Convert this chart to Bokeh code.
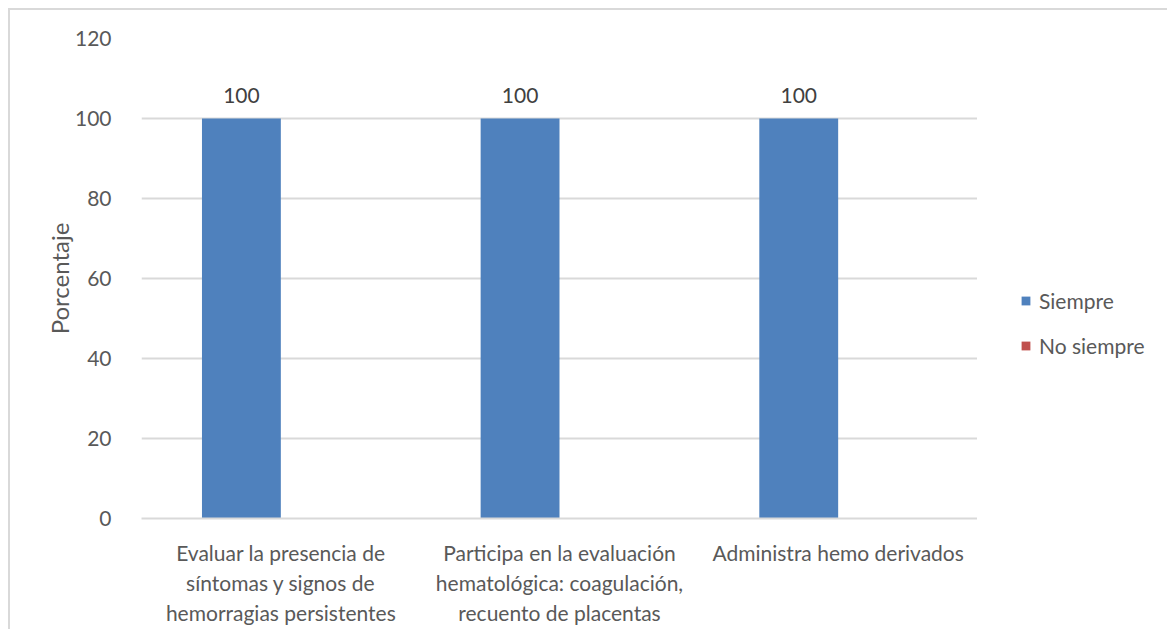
from bokeh.plotting import figure
from bokeh.layouts import row
from bokeh.models import ColumnDataSource, FactorRange, Range1d, Legend, LegendItem
from bokeh.transform import dodge
from bokeh.core.properties import value
from bokeh.embed import file_html
from bokeh.resources import INLINE

categories = [
    "Evaluar la presencia de\nsíntomas y signos de\nhemorragias persistentes",
    "Participa en la evaluación\nhematológica: coagulación,\nrecuento de placentas",
    "Administra hemo derivados",
]
siempre = [100, 100, 100]
no_siempre = [0, 0, 0]
series_names = ["Siempre", "No siempre"]
series_colors = ["#4f81bd", "#c0504d"]
y_ticks = [0, 20, 40, 60, 80, 100, 120]

FONT = "Lato"
TXT = "#595959"

src = ColumnDataSource(data=dict(
    cat=categories,
    siempre=siempre,
    no_siempre=no_siempre,
    lbl=[str(v) for v in siempre],
))

p = figure(
    x_range=FactorRange(factors=categories, range_padding=0),
    y_range=Range1d(0, 120),
    width=967, height=619,
    min_border_left=131, min_border_right=0,
    min_border_top=28, min_border_bottom=111,
    output_backend="svg", toolbar_location=None,
)
p.outline_line_color = None
p.background_fill_color = "white"
p.border_fill_color = "white"

p.vbar(x=dodge("cat", -0.1415, range=p.x_range), top="siempre", width=0.283,
       source=src, fill_color=series_colors[0], line_color=None)
p.vbar(x=dodge("cat", 0.1415, range=p.x_range), top="no_siempre", width=0.283,
       source=src, fill_color=series_colors[1], line_color=None)

p.text(x=dodge("cat", -0.1415, range=p.x_range), y="siempre", text="lbl", source=src,
       text_align="center", text_baseline="alphabetic", y_offset=-23,
       text_font=value(FONT), text_font_size="21px", text_color="#404040")

# axes
p.yaxis.ticker = y_ticks
p.yaxis.axis_line_color = None
p.yaxis.major_tick_line_color = None
p.yaxis.minor_tick_line_color = None
p.yaxis.major_label_standoff = 24
p.yaxis.major_label_text_font = FONT
p.yaxis.major_label_text_font_size = "21px"
p.yaxis.major_label_text_color = TXT
p.yaxis.axis_label = "Porcentaje"
p.yaxis.axis_label_text_font = FONT
p.yaxis.axis_label_text_font_size = "24px"
p.yaxis.axis_label_text_font_style = "normal"
p.yaxis.axis_label_text_color = TXT
p.yaxis.axis_label_standoff = -2

p.xaxis.axis_line_color = "#d9d9d9"
p.xaxis.axis_line_width = 2
p.xaxis.major_tick_line_color = None
p.xaxis.minor_tick_line_color = None
p.xaxis.major_label_standoff = 15
p.xaxis.major_label_text_font = FONT
p.xaxis.major_label_text_font_size = "21px"
p.xaxis.major_label_text_color = TXT
p.xaxis.major_label_orientation = "horizontal"

p.xgrid.grid_line_color = None
p.ygrid.grid_line_color = "#d9d9d9"
p.ygrid.grid_line_width = 2

# legend panel (dummy renderers lie outside the visible range)
lg = figure(width=190, height=619, x_range=Range1d(0, 1), y_range=Range1d(0, 1),
            min_border=0, output_backend="svg", toolbar_location=None)
lg.axis.visible = False
lg.grid.visible = False
lg.outline_line_color = None
lg.border_fill_color = "white"
rr = [lg.vbar(x=[50], top=[60], bottom=[55], width=1, fill_color=c, line_color=None)
      for c in series_colors]
legend = Legend(items=[LegendItem(label=n, renderers=[r]) for n, r in zip(series_names, rr)],
                location=(43, 160), orientation="vertical",
                glyph_width=11, glyph_height=11, label_standoff=8, spacing=20,
                padding=0, margin=0, border_line_color=None, background_fill_alpha=0,
                label_text_font=FONT, label_text_font_size="21px", label_text_color=TXT)
lg.add_layout(legend, "center")

layout = row(p, lg, spacing=0,
             styles={"margin-top": "8px", "margin-left": "8px",
                     "border-top": "2px solid #d9d9d9", "border-left": "2px solid #d9d9d9"})

open("out.html", "w").write(file_html(layout, INLINE))
